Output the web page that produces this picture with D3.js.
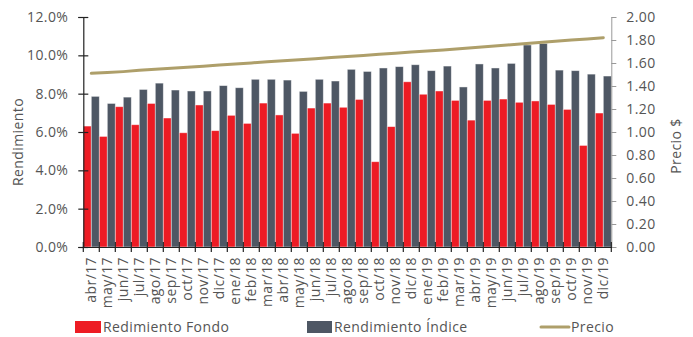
<!DOCTYPE html>
<html>
<head>
<meta charset="utf-8">
<script src="https://cdn.jsdelivr.net/npm/d3@7"></script>
<style>
  html, body { margin: 0; padding: 0; background: #fff; }
  svg { display: block; font-family: "Open Sans", Lato, sans-serif; }
</style>
</head>
<body>
<svg id="chart" width="693" height="337"></svg>
<script>
// Monthly categories
const months = ["abr/17","may/17","jun/17","jul/17","ago/17","sep/17","oct/17","nov/17","dic/17",
  "ene/18","feb/18","mar/18","abr/18","may/18","jun/18","jul/18","ago/18","sep/18","oct/18","nov/18","dic/18",
  "ene/19","feb/19","mar/19","abr/19","may/19","jun/19","jul/19","ago/19","sep/19","oct/19","nov/19","dic/19"];

// Fund return (%)
const fondo = [6.31,5.77,7.32,6.38,7.49,6.73,5.96,7.41,6.07,
  6.87,6.45,7.51,6.89,5.93,7.25,7.51,7.29,7.70,4.45,6.28,8.62,
  7.97,8.14,7.65,6.62,7.65,7.72,7.55,7.62,7.44,7.18,5.30,6.99];

// Index return (%)
const indice = [7.86,7.49,7.82,8.22,8.55,8.19,8.14,8.14,8.42,
  8.31,8.75,8.75,8.71,8.12,8.75,8.66,9.27,9.16,9.34,9.41,9.51,
  9.20,9.44,8.35,9.55,9.34,9.58,10.54,10.62,9.23,9.20,9.02,8.92];

// Price ($)
const precio = [1.510,1.517,1.525,1.536,1.546,1.554,1.564,1.572,1.582,
  1.591,1.601,1.610,1.619,1.628,1.638,1.648,1.657,1.666,1.676,1.685,1.695,
  1.705,1.714,1.724,1.735,1.745,1.756,1.767,1.778,1.789,1.799,1.809,1.820];

const leftTicks = [0,2,4,6,8,10,12];
const rightTicks = [0,0.2,0.4,0.6,0.8,1.0,1.2,1.4,1.6,1.8,2.0];

const svg = d3.select("#chart");
const plotL = 83.3, plotR = 611.3, plotT = 17, plotB = 247;
const fontSize = 14;
const fontFam = "'Open Sans', Lato, sans-serif";

const x = d3.scaleBand().domain(months).range([plotL, plotR]).padding(0);
const inner = d3.scaleBand().domain(["fondo","indice"]).range([0, x.bandwidth()]).padding(0);
const yL = d3.scaleLinear().domain([0, 12]).range([plotB, plotT]);
const yR = d3.scaleLinear().domain([0, 2]).range([plotB, plotT]);

const textColor = "#555";

// Bars
const g = svg.append("g");
months.forEach((m, i) => {
  g.append("rect")
    .attr("x", x(m) + inner("fondo"))
    .attr("y", yL(fondo[i]))
    .attr("width", inner.bandwidth())
    .attr("height", yL(0) - yL(fondo[i]))
    .attr("fill", "#ED1C24")
    .attr("stroke", "rgba(255,255,255,0.55)")
    .attr("stroke-width", 0.8);
  g.append("rect")
    .attr("x", x(m) + inner("indice"))
    .attr("y", yL(indice[i]))
    .attr("width", inner.bandwidth())
    .attr("height", yL(0) - yL(indice[i]))
    .attr("fill", "#4E5764")
    .attr("stroke", "rgba(255,255,255,0.55)")
    .attr("stroke-width", 0.8);
});

// Price line
const line = d3.line()
  .x((d, i) => x(months[i]) + x.bandwidth() / 2)
  .y(d => yR(d));
svg.append("path")
  .datum(precio)
  .attr("d", line)
  .attr("fill", "none")
  .attr("stroke", "#AE9F6A")
  .attr("stroke-width", 3)
  .attr("stroke-linecap", "round");

function styleText(sel) {
  sel.attr("font-size", fontSize).attr("fill", textColor)
    .attr("font-family", fontFam).attr("font-weight", 400)
    .attr("letter-spacing", "0.4px");
}

// Left axis
const axL = svg.append("g").attr("transform", `translate(${plotL},0)`)
  .call(d3.axisLeft(yL).tickValues(leftTicks).tickFormat(d => d.toFixed(1) + "%").tickSize(5).tickPadding(10));
axL.select(".domain").attr("stroke", "#222").attr("stroke-width", 1.2);
axL.selectAll(".tick line").attr("stroke", "#222").attr("x2", -5).attr("x1", 5).attr("stroke-width", 1.2);
axL.selectAll(".tick text").call(styleText);

// Right axis
const axR = svg.append("g").attr("transform", `translate(${plotR},0)`)
  .call(d3.axisRight(yR).tickValues(rightTicks).tickFormat(d => d.toFixed(2)).tickSize(5).tickPadding(10));
axR.select(".domain").attr("stroke", "#999");
axR.selectAll(".tick line").attr("stroke", "#999");
axR.selectAll(".tick text").call(styleText);

// Bottom axis
const axB = svg.append("g").attr("transform", `translate(0,${plotB})`)
  .call(d3.axisBottom(x).tickSize(0).tickPadding(0));
axB.select(".domain").attr("stroke", "#222").attr("stroke-width", 1.2);
axB.selectAll(".tick text")
  .call(styleText)
  .attr("text-anchor", "end")
  .attr("dy", "0.35em")
  .attr("transform", "translate(0,10) rotate(-90)")
  .attr("x", 0).attr("y", 0);
// boundary ticks between months
const bounds = months.map(m => x(m)).concat([plotR]);
axB.selectAll(".bnd").data(bounds).enter().append("line")
  .attr("x1", d => d).attr("x2", d => d).attr("y1", -5).attr("y2", 5)
  .attr("stroke", "#222").attr("stroke-width", 1.2);

// Axis titles
svg.append("text")
  .attr("transform", `translate(23,${(plotT + plotB) / 2 + 10}) rotate(-90)`)
  .attr("text-anchor", "middle")
  .call(styleText)
  .text("Rendimiento");
svg.append("text")
  .attr("transform", `translate(681,146) rotate(-90)`)
  .attr("text-anchor", "middle")
  .call(styleText)
  .text("Precio $");

// Legend
const legY = 327;
const leg = svg.append("g");
leg.append("rect").attr("x", 75).attr("y", legY - 6).attr("width", 26).attr("height", 12).attr("fill", "#ED1C24");
leg.append("text").attr("x", 103).attr("y", legY).attr("dy", "0.35em").call(styleText).text("Redimiento Fondo");
leg.append("rect").attr("x", 307).attr("y", legY - 6).attr("width", 25).attr("height", 12).attr("fill", "#4E5764");
leg.append("text").attr("x", 334).attr("y", legY).attr("dy", "0.35em").call(styleText).text("Rendimiento Índice");
leg.append("line").attr("x1", 541).attr("x2", 569).attr("y1", legY).attr("y2", legY)
  .attr("stroke", "#AE9F6A").attr("stroke-width", 3).attr("stroke-linecap", "round");
leg.append("text").attr("x", 571).attr("y", legY).attr("dy", "0.35em").call(styleText).text("Precio");
</script>
</body>
</html>
